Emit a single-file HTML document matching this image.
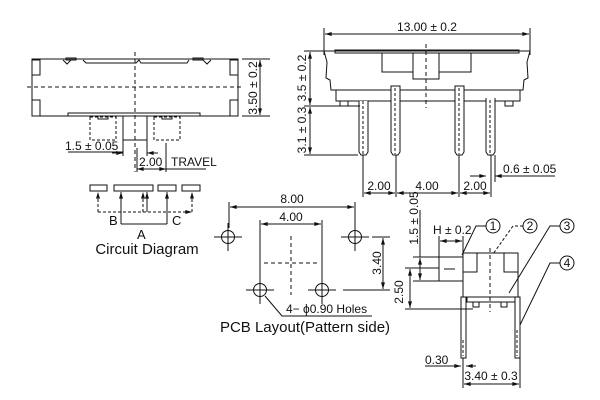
<!DOCTYPE html>
<html><head><meta charset="utf-8"><style>
html,body{margin:0;padding:0;background:#fff;width:600px;height:400px;overflow:hidden}
svg{display:block}
text{font-family:"Liberation Sans",Arial,sans-serif;fill:#111}
</style></head><body>
<svg width="600" height="400" viewBox="0 0 600 400" xmlns="http://www.w3.org/2000/svg">
<defs>
<marker id="a" viewBox="0 0 10 6" refX="10" refY="3" markerWidth="8" markerHeight="4" orient="auto-start-reverse"><path d="M0,0L10,3L0,6z" fill="#111"/></marker>
</defs>
<g stroke="#111" stroke-width="1" fill="none">
<!-- LEFT TOP VIEW -->
<rect x="32" y="59" width="206" height="57"/>
<rect x="32" y="60" width="8" height="15"/><rect x="32" y="100" width="8" height="16"/>
<rect x="230" y="60" width="8" height="15"/><rect x="230" y="100" width="8" height="16"/>
<path d="M63,60 l4,4 l4,-4 M83,60 l3,3 h50 l3,-3 l2,3 h46 l2,-3 M203,60 l4,4 l4,-4"/>
<rect x="66" y="58" width="10" height="2" fill="#555"/><rect x="193" y="58" width="10" height="2" fill="#555"/>
<rect x="68" y="113" width="132" height="3"/>
<line x1="27" y1="87" x2="243" y2="87" stroke-dasharray="4,3"/>
<line x1="135" y1="52" x2="135" y2="172" stroke-dasharray="4,3"/>
<rect x="123" y="116" width="24" height="24"/>
<rect x="90" y="117" width="26" height="23" stroke-dasharray="3,2"/>
<rect x="154" y="117" width="26" height="23" stroke-dasharray="3,2"/>
<rect x="98" y="116" width="10" height="3"/><rect x="162" y="116" width="10" height="3"/>
<line x1="242" y1="59" x2="270" y2="59"/><line x1="242" y1="116" x2="270" y2="116"/>
<line x1="260" y1="60" x2="260" y2="115" marker-start="url(#a)" marker-end="url(#a)"/>
<line x1="68" y1="152" x2="123" y2="152"/>
<line x1="123" y1="140" x2="123" y2="156"/><line x1="147" y1="140" x2="147" y2="156"/>
<line x1="112" y1="153" x2="123" y2="153" marker-end="url(#a)"/>
<line x1="158" y1="153" x2="147" y2="153" marker-end="url(#a)"/>
<line x1="137" y1="148" x2="137" y2="172"/><line x1="166" y1="143" x2="166" y2="172"/>
<line x1="137" y1="169" x2="166" y2="169" marker-start="url(#a)" marker-end="url(#a)"/>
<line x1="166" y1="169" x2="206" y2="169"/>
<!-- circuit -->
<rect x="90" y="185" width="17" height="6"/><rect x="114" y="185" width="39" height="6"/>
<rect x="158" y="185" width="18" height="6"/><rect x="182" y="185" width="18" height="6"/>
<path d="M98,212 V192 M143,212 V192 M192,212 V192 M98,212 H192" stroke-dasharray="3,2" marker-end="url(#a)"/>
<line x1="98" y1="212" x2="98" y2="192" stroke-dasharray="3,2" marker-end="url(#a)"/>
<line x1="143" y1="212" x2="143" y2="192" stroke-dasharray="3,2" marker-end="url(#a)"/>
<line x1="192" y1="212" x2="192" y2="192" stroke-dasharray="3,2" marker-end="url(#a)"/>
<line x1="147" y1="212" x2="147" y2="192" marker-end="url(#a)"/>
<line x1="121" y1="224" x2="121" y2="192" marker-end="url(#a)"/>
<line x1="167" y1="224" x2="167" y2="192" marker-end="url(#a)"/>
<line x1="121" y1="224" x2="167" y2="224"/>
<!-- RIGHT FRONT VIEW -->
<line x1="324" y1="28" x2="324" y2="55"/><line x1="530" y1="28" x2="530" y2="55"/>
<line x1="325" y1="34" x2="529" y2="34" marker-start="url(#a)" marker-end="url(#a)"/>
<path d="M324,51 H530 L527,62 L528,78 L524,80 L523,90 H331 L330,80 L326,78 L327,62 Z"/>
<rect x="335" y="50" width="184" height="3"/>
<rect x="382" y="53" width="89" height="19"/>
<rect x="413" y="53" width="26" height="26" fill="#fff"/>
<rect x="336" y="90" width="184" height="11"/>
<rect x="340" y="101" width="8" height="5"/><rect x="505" y="101" width="8" height="5"/>
<line x1="426" y1="44" x2="426" y2="108" stroke-dasharray="4,3"/>
<path d="M359,101 V152 L361,155 H366 L368,152 V101" fill="#fff"/>
<path d="M391,86 V152 L393,155 H398 L400,152 V86 Z" fill="#fff"/>
<path d="M455,86 V152 L457,155 H462 L464,152 V86 Z" fill="#fff"/>
<path d="M486,98 V152 L488,155 H493 L495,152 V98" fill="#fff"/>
<g stroke-dasharray="3,2"><line x1="363" y1="101" x2="363" y2="154"/><line x1="395" y1="88" x2="395" y2="154"/><line x1="459" y1="88" x2="459" y2="154"/><line x1="490" y1="100" x2="490" y2="154"/></g>
<line x1="304" y1="51" x2="324" y2="51"/><line x1="304" y1="106" x2="360" y2="106"/><line x1="304" y1="155" x2="358" y2="155"/>
<line x1="310" y1="52" x2="310" y2="105" marker-start="url(#a)" marker-end="url(#a)"/>
<line x1="310" y1="107" x2="310" y2="154" marker-start="url(#a)" marker-end="url(#a)"/>
<line x1="363" y1="155" x2="363" y2="197"/><line x1="396" y1="155" x2="396" y2="197"/>
<line x1="459" y1="155" x2="459" y2="197"/><line x1="491" y1="155" x2="491" y2="197"/>
<line x1="364" y1="193" x2="395" y2="193" marker-start="url(#a)" marker-end="url(#a)"/>
<line x1="397" y1="193" x2="458" y2="193" marker-start="url(#a)" marker-end="url(#a)"/>
<line x1="460" y1="193" x2="490" y2="193" marker-start="url(#a)" marker-end="url(#a)"/>
<line x1="495" y1="155" x2="495" y2="182"/>
<line x1="470" y1="176" x2="486" y2="176" marker-end="url(#a)"/>
<line x1="555" y1="176" x2="495" y2="176" marker-end="url(#a)"/>
<!-- PCB -->
<line x1="229" y1="202" x2="229" y2="228"/><line x1="355" y1="202" x2="355" y2="228"/>
<line x1="230" y1="207" x2="354" y2="207" marker-start="url(#a)" marker-end="url(#a)"/>
<line x1="260" y1="220" x2="260" y2="282"/><line x1="322" y1="220" x2="322" y2="282"/>
<line x1="261" y1="224" x2="321" y2="224" marker-start="url(#a)" marker-end="url(#a)"/>
<g>
<circle cx="228" cy="237" r="6.5"/><path d="M214,237H242M228,223V251"/>
<circle cx="355" cy="237" r="6.5"/><path d="M341,237H369M355,223V251"/>
<circle cx="260" cy="290" r="6.5"/><path d="M246,290H274M260,276V304"/>
<circle cx="322" cy="290" r="6.5"/><path d="M308,290H336M322,276V304"/>
</g>
<line x1="291" y1="236" x2="291" y2="295" stroke-dasharray="4,3"/>
<line x1="264" y1="263" x2="318" y2="263" stroke-dasharray="4,3"/>
<line x1="372" y1="237" x2="390" y2="237"/><line x1="343" y1="290" x2="390" y2="290"/>
<line x1="383" y1="238" x2="383" y2="289" marker-start="url(#a)" marker-end="url(#a)"/>
<path d="M265,296 L282,316 H372"/>
<!-- SIDE VIEW -->
<rect x="463" y="253" width="55" height="44"/>
<rect x="463" y="253" width="14" height="19"/><rect x="504" y="253" width="14" height="19"/>
<rect x="439" y="257" width="24" height="24"/>
<line x1="444" y1="269" x2="455" y2="269"/>
<rect x="467" y="297" width="48" height="5"/>
<rect x="473" y="302" width="6" height="5"/><rect x="501" y="302" width="6" height="5"/>
<rect x="461" y="297" width="5" height="61"/><rect x="515" y="297" width="5" height="61"/>
<line x1="463" y1="340" x2="463" y2="356" stroke-dasharray="3,2"/><line x1="517" y1="330" x2="517" y2="356" stroke-dasharray="3,2"/>
<line x1="490" y1="248" x2="490" y2="312" stroke-dasharray="4,3"/>
<line x1="439" y1="236" x2="439" y2="257"/><line x1="463" y1="236" x2="463" y2="253"/>
<line x1="440" y1="241" x2="462" y2="241" marker-start="url(#a)" marker-end="url(#a)"/>
<line x1="413" y1="257" x2="439" y2="257"/><line x1="413" y1="281" x2="439" y2="281"/>
<line x1="420" y1="258" x2="420" y2="280" marker-start="url(#a)" marker-end="url(#a)"/>
<line x1="420" y1="210" x2="420" y2="257"/>
<line x1="405" y1="268" x2="439" y2="268"/><line x1="405" y1="309" x2="473" y2="309"/>
<line x1="410" y1="269" x2="410" y2="308" marker-start="url(#a)" marker-end="url(#a)"/>
<line x1="425" y1="366" x2="461" y2="366"/>
<line x1="452" y1="366" x2="461" y2="366" marker-end="url(#a)"/>
<line x1="476" y1="366" x2="466" y2="366" marker-end="url(#a)"/>
<line x1="463" y1="358" x2="463" y2="388"/><line x1="520" y1="358" x2="520" y2="388"/>
<line x1="464" y1="384" x2="519" y2="384" marker-start="url(#a)" marker-end="url(#a)"/>
<circle cx="493" cy="226" r="7"/><circle cx="530" cy="226" r="7"/><circle cx="567" cy="226" r="7"/><circle cx="567" cy="263" r="7"/>
<path d="M486,226 H476 L462,255"/>
<path d="M523,226 H513 L493,254" stroke-dasharray="3,2"/>
<path d="M560,226 H550 L509,293"/>
<path d="M560,263 H550 L520,325"/>
</g>
<g font-size="12">
<text x="253" y="88" text-anchor="middle" transform="rotate(-90 253 88)" dy="4">3.50 ± 0.2</text>
<text x="65" y="150">1.5 ± 0.05</text>
<text x="139" y="166">2.00</text>
<text x="171" y="166">TRAVEL</text>
<text x="109" y="225" font-size="13">B</text>
<text x="172" y="225" font-size="13">C</text>
<text x="137" y="239" font-size="13">A</text>
<text x="147" y="254" font-size="15" text-anchor="middle">Circuit Diagram</text>
<text x="427" y="31" text-anchor="middle">13.00 ± 0.2</text>
<text x="302" y="78" text-anchor="middle" transform="rotate(-90 302 78)" dy="4">3.5 ± 0.2</text>
<text x="302" y="130" text-anchor="middle" transform="rotate(-90 302 130)" dy="4">3.1 ± 0.3</text>
<text x="379" y="190" text-anchor="middle">2.00</text>
<text x="427" y="190" text-anchor="middle">4.00</text>
<text x="475" y="190" text-anchor="middle">2.00</text>
<text x="503" y="173">0.6 ± 0.05</text>
<text x="292" y="203" text-anchor="middle">8.00</text>
<text x="291" y="221" text-anchor="middle">4.00</text>
<text x="377" y="263" text-anchor="middle" transform="rotate(-90 377 263)" dy="4">3.40</text>
<text x="286" y="313">4− ϕ0.90 Holes</text>
<text x="305" y="332" font-size="15" text-anchor="middle">PCB Layout(Pattern side)</text>
<text x="433" y="234">H ± 0.2</text>
<text x="414" y="218" text-anchor="middle" transform="rotate(-90 414 218)" dy="4">1.5 ± 0.05</text>
<text x="399" y="292" text-anchor="middle" transform="rotate(-90 399 292)" dy="4">2.50</text>
<text x="425" y="364">0.30</text>
<text x="491" y="380" text-anchor="middle">3.40 ± 0.3</text>
<text x="493" y="230" text-anchor="middle">1</text>
<text x="530" y="230" text-anchor="middle">2</text>
<text x="567" y="230" text-anchor="middle">3</text>
<text x="567" y="267" text-anchor="middle">4</text>
</g>
</svg>
</body></html>
